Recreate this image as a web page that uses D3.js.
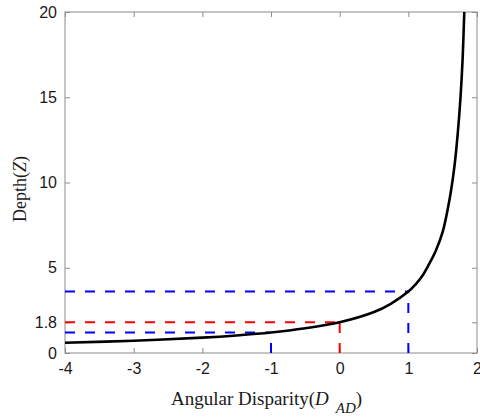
<!DOCTYPE html>
<html>
<head>
<meta charset="utf-8">
<script src="https://cdn.jsdelivr.net/npm/d3@7/dist/d3.min.js"></script>
<style>
  html, body { margin: 0; padding: 0; background: #fff; }
  svg { display: block; }
</style>
</head>
<body>
<svg id="chart" width="480" height="417"></svg>
<script>
// Depth versus angular disparity curve
const disparity = [-4, -3, -2, -1.5, -1, -0.5, 0, 0.5, 0.75, 1, 1.1, 1.2, 1.3, 1.4, 1.5, 1.6, 1.67, 1.72, 1.76, 1.79, 1.815];
const depth     = [0.6, 0.72, 0.9, 1.03, 1.2, 1.45, 1.8, 2.4, 2.9, 3.6, 4.0, 4.5, 5.2, 6.0, 7.1, 9.0, 10.9, 12.9, 15, 17.2, 20];

// Reference guides: from the left edge to the curve, then down to the axis
const guideD = [1, 0, -1];
const guideZ = [3.6, 1.8, 1.2];
const guideColor = ["#0000ff", "#ff0000", "#0000ff"];

const xTicks = [-4, -3, -2, -1, 0, 1, 2];
const yTicks = [0, 1.8, 5, 10, 15, 20];

const margin = { left: 65, right: 3, top: 12, bottom: 64 };
const W = 480, H = 417;
const svg = d3.select("#chart");

const x = d3.scaleLinear().domain([-4, 2]).range([margin.left, W - margin.right]);
const y = d3.scaleLinear().domain([0, 20]).range([H - margin.bottom, margin.top]);

const axisColor = "#8c8c8c";
const tickFont = "'Liberation Sans', Arial, sans-serif";
const labelFont = "'Liberation Serif', 'Times New Roman', serif";

// Axes with inward ticks on all four sides
function styleAxis(g) {
  g.select(".domain").remove();
  g.selectAll(".tick line").attr("stroke", axisColor).attr("stroke-width", 1);
  g.selectAll(".tick text").attr("fill", "#1a1a1a")
    .attr("font-family", tickFont).attr("font-size", 16);
}

svg.append("g").attr("transform", `translate(0,${y(0)})`)
  .call(d3.axisBottom(x).tickValues(xTicks).tickFormat(d => String(d)).tickSizeInner(-5).tickSizeOuter(0).tickPadding(10))
  .call(styleAxis);
svg.append("g").attr("transform", `translate(0,${y(20)})`)
  .call(d3.axisTop(x).tickValues(xTicks).tickFormat("").tickSizeInner(-5).tickSizeOuter(0))
  .call(styleAxis);
svg.append("g").attr("transform", `translate(${x(-4)},0)`)
  .call(d3.axisLeft(y).tickValues(yTicks).tickFormat(d => String(d)).tickSizeInner(-5).tickSizeOuter(0).tickPadding(8))
  .call(styleAxis);
svg.append("g").attr("transform", `translate(${x(2)},0)`)
  .call(d3.axisRight(y).tickValues(yTicks).tickFormat("").tickSizeInner(-5).tickSizeOuter(0))
  .call(styleAxis);

// Plot box
svg.append("rect")
  .attr("x", x(-4)).attr("y", y(20))
  .attr("width", x(2) - x(-4)).attr("height", y(0) - y(20))
  .attr("fill", "none").attr("stroke", axisColor).attr("stroke-width", 1);

// Dashed guide lines
guideD.forEach((d, i) => {
  const g = svg.append("g").attr("stroke", guideColor[i]).attr("stroke-width", 2)
    .attr("stroke-dasharray", "10,10").attr("fill", "none");
  g.append("line").attr("x1", x(-4)).attr("x2", x(d))
    .attr("y1", y(guideZ[i])).attr("y2", y(guideZ[i]));
  g.append("line").attr("x1", x(d)).attr("x2", x(d))
    .attr("y1", y(0)).attr("y2", y(guideZ[i]));
});

// Depth curve
const pts = disparity.map((d, i) => [d, depth[i]]);
svg.append("path")
  .datum(pts)
  .attr("fill", "none").attr("stroke", "#000").attr("stroke-width", 2.6)
  .attr("d", d3.line().x(p => x(p[0])).y(p => y(p[1])).curve(d3.curveCatmullRom.alpha(0.5)));

// Axis labels
const xl = svg.append("text")
  .attr("x", 171).attr("y", 405)
  .attr("font-family", labelFont).attr("font-size", 19).attr("fill", "#1a1a1a");
xl.append("tspan").text("Angular Disparity(");
xl.append("tspan").attr("font-style", "italic").text("D");
xl.append("tspan").attr("font-style", "italic").attr("font-size", 15).attr("dx", 7).attr("dy", 8).text("AD");
xl.append("tspan").attr("dy", -8).text(")");

const yl = svg.append("text")
  .attr("transform", `translate(26,189) rotate(-90)`)
  .attr("text-anchor", "middle")
  .attr("font-family", labelFont).attr("font-size", 18).attr("fill", "#1a1a1a");
yl.append("tspan").text("Depth(");
yl.append("tspan").attr("font-style", "italic").text("Z");
yl.append("tspan").text(")");
</script>
</body>
</html>
